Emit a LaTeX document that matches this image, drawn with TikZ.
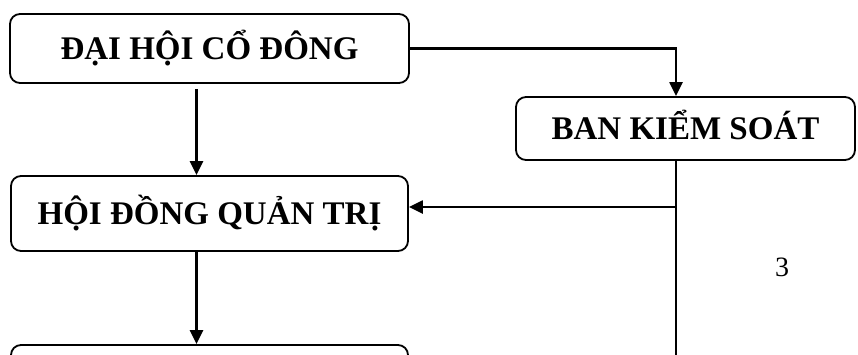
\documentclass[tikz,border=0pt]{standalone}
\usepackage{fontspec}
\setmainfont{Liberation Serif}
\usepackage{tikz}
\usetikzlibrary{arrows.meta, positioning}

\tikzset{
  box/.style={draw, line width=1.8pt, rounded corners=10pt, inner sep=0pt,
    font=\bfseries\fontsize{33}{37}\selectfont, text height=22pt, text depth=0pt},
  wire/.style={line width=2.3pt},
  link/.style={wire, -{Triangle[width=13pt,length=14pt]}}
}

\begin{document}
\begin{tikzpicture}[x=1pt, y=-1pt]
        \useasboundingbox (0,0) rectangle (858,354);
        % Boxes
        \node[box, minimum width=399pt, minimum height=69pt] (daihoi) at (209.5,48.5) {ĐẠI HỘI CỔ ĐÔNG};
        \node[box, minimum width=339pt, minimum height=63pt] (bks) at (685.5,128.5) {BAN KIỂM SOÁT};
        \node[box, minimum width=397pt, minimum height=75pt] (hdqt) at (209.5,213.5) {HỘI ĐỒNG QUẢN TRỊ};
        \node[box, minimum width=397pt, minimum height=70pt] (bgd) at (209.5,380) {};
        % Page number
        \node[font=\fontsize{28}{32}\selectfont] (pageno) at (782,267) {3};
        % Junctions on the control line
        \coordinate (tap) at (676,207);
        \coordinate (kend) at (676,360);
        % Connectors
        \draw[link] (daihoi.east) -| ([xshift=-9.5pt]bks.north);
        \draw[link] ([xshift=-13pt,yshift=-5pt]daihoi.south) -- ([xshift=-13pt]hdqt.north);
        \draw[link] ([xshift=-13pt]hdqt.south) -- ([xshift=-13pt]bgd.north);
        \draw[wire] ([xshift=-9.5pt]bks.south) -- (kend);
        \draw[link] (tap) -- (tap -| hdqt.east);
      \end{tikzpicture}
\end{document}
